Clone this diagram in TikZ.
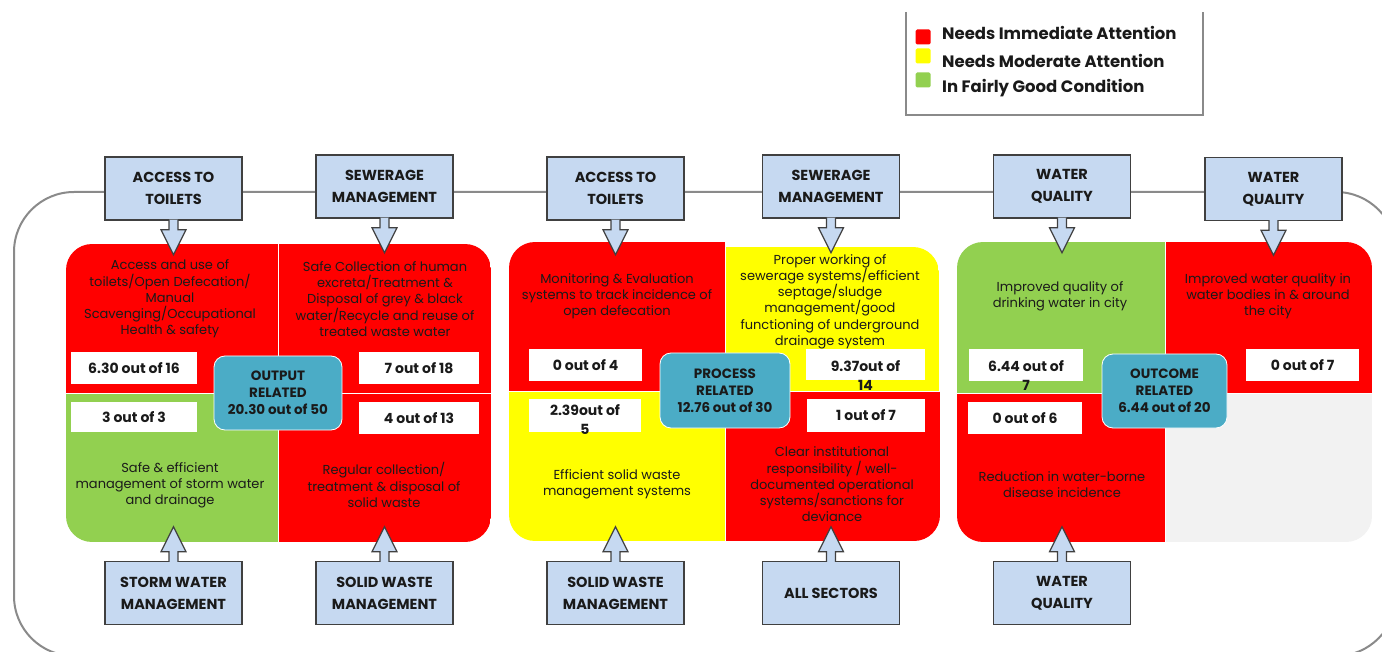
\documentclass[tikz,border=0pt]{standalone}
\usepackage{fontspec}
\setmainfont{Poppins}
\usetikzlibrary{calc}

\definecolor{hdrblue}{HTML}{C6D9F1}
\definecolor{edgegray}{HTML}{404040}
\definecolor{alertred}{HTML}{FF0000}
\definecolor{midyellow}{HTML}{FFFF00}
\definecolor{goodgreen}{HTML}{92D050}
\definecolor{blankgray}{HTML}{F2F2F2}
\definecolor{sumteal}{HTML}{4BACC6}
\definecolor{framegray}{HTML}{8A8A8A}
\definecolor{inkdark}{HTML}{1A1A1A}

\tikzset{
  hdr/.style={draw=edgegray, line width=1.4pt, fill=hdrblue, minimum width=137pt,
    minimum height=63pt, inner sep=0pt, align=center, text=inkdark,
    font=\bfseries\fontsize{14.5}{22}\selectfont},
  scorebox/.style={fill=white, inner sep=0pt, text=inkdark,
    font=\bfseries\fontsize{14}{19}\selectfont},
  scoretext/.style={inner sep=0pt, align=center, text=inkdark,
    font=\bfseries\fontsize{14}{19}\selectfont},
  desc/.style={align=center, inner sep=0pt, text=inkdark,
    font=\fontsize{13}{16.2}\selectfont},
  summary/.style={fill=sumteal, draw=white, line width=0.8pt, rounded corners=11pt,
    inner sep=0pt, align=center, text=inkdark,
    font=\bfseries\fontsize{13.5}{17}\selectfont},
  blockarrow/.style={fill=hdrblue, draw=edgegray, line width=1.2pt, line join=miter},
  divider/.style={white, line width=1pt},
  legsq/.style={minimum size=15pt, inner sep=0pt, rounded corners=1.5pt},
  legtext/.style={anchor=west, inner sep=0pt, text=inkdark,
    font=\bfseries\fontsize{16.5}{18}\selectfont}
}

% block arrow hanging below a header box
\newcommand{\blockdown}[1]{%
  \filldraw[blockarrow] ($(#1.south)+(-4.5,-1)$) -- ($(#1.south)+(-4.5,9)$)
    -- ($(#1.south)+(-12.5,9)$) -- ($(#1.south)+(0,34)$)
    -- ($(#1.south)+(12.5,9)$) -- ($(#1.south)+(4.5,9)$) -- ($(#1.south)+(4.5,-1)$);}
% block arrow rising above a footer box
\newcommand{\blockup}[1]{%
  \filldraw[blockarrow] ($(#1.north)+(-4.5,1)$) -- ($(#1.north)+(-4.5,-9)$)
    -- ($(#1.north)+(-12.5,-9)$) -- ($(#1.north)+(0,-34)$)
    -- ($(#1.north)+(12.5,-9)$) -- ($(#1.north)+(4.5,-9)$) -- ($(#1.north)+(4.5,1)$);}

\begin{document}
\begin{tikzpicture}[x=1pt, y=-1pt]
\useasboundingbox (0,0) rectangle (1382,652);

% ---------- legend ----------
\draw[framegray, line width=2pt] (906,12) -- (906,115) -- (1203,115) -- (1203,12);
\node[legsq, fill=alertred]  (lg1) at (923,37) {};
\node[legsq, fill=midyellow] (lg2) at (923,56) {};
\node[legsq, fill=goodgreen] (lg3) at (923,80) {};
\node[legtext] (lt1) at (942,33) {Needs Immediate Attention};
\node[legtext] (lt2) at (942,61) {Needs Moderate Attention};
\node[legtext] (lt3) at (942,88) {In Fairly Good Condition};

% ---------- outer frame ----------
\draw[framegray, line width=2pt, rounded corners=60pt] (14,192) rectangle (1396,656);

% ---------- output related panel ----------
\begin{scope}
  \clip[rounded corners=26pt] (66,244) rectangle (491,542);
  \fill[alertred]  (66,244) rectangle (278,393);
  \fill[alertred]  (278,244) rectangle (491,393);
  \fill[goodgreen] (66,393) rectangle (278,542);
  \fill[alertred]  (278,393) rectangle (491,542);
\end{scope}
\draw[divider] (278,244) -- (278,542);
\draw[divider] (66,393) -- (491,393);

% ---------- process related panel ----------
\begin{scope}
  \clip[rounded corners=26pt] (509,242) rectangle (940,541);
  \fill[alertred]  (509,242) rectangle (725,391);
  \begin{scope}
    \clip[rounded corners=26pt] (690,247) rectangle (939,430);
    \fill[midyellow] (725,247) rectangle (939,391);
  \end{scope}
  \fill[midyellow] (509,391) rectangle (726,541);
  \fill[alertred]  (726,391) rectangle (940,541);
\end{scope}
\draw[divider] (509,391) -- (940,391);
\draw[divider] (725.5,247) -- (725.5,541);

% ---------- outcome related panel ----------
\begin{scope}
  \clip[rounded corners=26pt] (957,242) rectangle (1372,542);
  \fill[goodgreen] (957,242) rectangle (1165,393);
  \fill[alertred]  (1165,242) rectangle (1372,393);
  \fill[alertred]  (957,393) rectangle (1165,542);
  \fill[blankgray] (1165,393) rectangle (1372,542);
\end{scope}
\draw[divider] (1165,242) -- (1165,542);
\draw[divider] (957,393) -- (1372,393);

% ---------- header boxes ----------
\node[hdr] (t1) at (173.5,188.5) {ACCESS TO\\TOILETS};
\node[hdr] (t2) at (384.5,186.5) {SEWERAGE\\MANAGEMENT};
\node[hdr] (t3) at (615.5,188.5) {ACCESS TO\\TOILETS};
\node[hdr] (t4) at (831,186.5)   {SEWERAGE\\MANAGEMENT};
\node[hdr] (t5) at (1062,186.5)  {WATER\\QUALITY};
\node[hdr] (t6) at (1273.5,189)  {WATER\\QUALITY};

% ---------- footer boxes ----------
\node[hdr] (b1) at (173.5,593) {STORM WATER\\MANAGEMENT};
\node[hdr] (b2) at (384.5,593) {SOLID WASTE\\MANAGEMENT};
\node[hdr] (b3) at (615.5,593) {SOLID WASTE\\MANAGEMENT};
\node[hdr] (b4) at (831,593)   {ALL SECTORS};
\node[hdr] (b5) at (1062,593)  {WATER\\QUALITY};

% ---------- connectors ----------
\blockdown{t1} \blockdown{t2} \blockdown{t3}
\blockdown{t4} \blockdown{t5} \blockdown{t6}
\blockup{b1} \blockup{b2} \blockup{b3} \blockup{b4} \blockup{b5}

% ---------- indicator descriptions ----------
\node[desc] (d1) at (170,299) {Access and use of\\toilets/Open Defecation/\\Manual\\Scavenging/Occupational\\Health \& safety};
\node[desc] (d2) at (385,299) {Safe Collection of human\\excreta/Treatment \&\\Disposal of grey \& black\\water/Recycle and reuse of\\treated waste water};
\node[desc] (d3) at (170,485) {Safe \& efficient\\management of storm water\\and drainage};
\node[desc] (d4) at (384,485) {Regular collection/\\treatment \& disposal of\\solid waste};

\node[desc] (d5) at (617,296) {Monitoring \& Evaluation\\systems to track incidence of\\open defecation};
\node[desc] (d6) at (830,301.5) {Proper working of\\sewerage systems/efficient\\septage/sludge\\management/good\\functioning of underground\\drainage system};
\node[desc] (d7) at (617,484) {Efficient solid waste\\management systems};
\node[desc] (d8) at (832,484.5) {Clear institutional\\responsibility / well-\\documented operational\\systems/sanctions for\\deviance};

\node[desc] (d9)  at (1060,296.5) {Improved quality of\\drinking water in city};
\node[desc] (d10) at (1268,296) {Improved water quality in\\water bodies in \& around\\the city};
\node[desc] (d11) at (1062,485) {Reduction in water-borne\\disease incidence};

% ---------- scores ----------
\node[scorebox, minimum width=126pt, minimum height=32pt] (s1) at (134,368) {6.30 out of 16};
\node[scorebox, minimum width=120pt, minimum height=32pt] (s2) at (419,368) {7 out of 18};
\node[scorebox, minimum width=126pt, minimum height=30pt] (s3) at (134,417) {3 out of 3};
\node[scorebox, minimum width=120pt, minimum height=32pt] (s4) at (419,418) {4 out of 13};

\node[scorebox, minimum width=113pt, minimum height=32pt] (s5) at (585.5,365) {0 out of 4};
\node[scorebox, minimum width=119pt, minimum height=31pt] (s6) at (865.5,364.5) {};
\node[scoretext] (s6t) at (865.5,376) {9.37out of\\14};
\node[scorebox, minimum width=112pt, minimum height=33pt] (s7) at (585,415.5) {};
\node[scoretext] (s7t) at (585,420) {2.39out of\\5};
\node[scorebox, minimum width=118pt, minimum height=33pt] (s8) at (866,415.5) {1 out of 7};

\node[scorebox, minimum width=114pt, minimum height=32pt] (s9) at (1026,365) {};
\node[scoretext] (s9t) at (1026,376) {6.44 out of\\7};
\node[scorebox, minimum width=113pt, minimum height=32pt] (s10) at (1302.5,365) {0 out of 7};
\node[scorebox, minimum width=114pt, minimum height=32pt] (s11) at (1025,418) {0 out of 6};

% ---------- category totals ----------
\node[summary, minimum width=128pt, minimum height=74pt] (sumA) at (278,393) {OUTPUT\\RELATED\\20.30 out of 50};
\node[summary, minimum width=130pt, minimum height=75pt] (sumB) at (725,390.5) {PROCESS\\RELATED\\12.76 out of 30};
\node[summary, minimum width=125pt, minimum height=74pt] (sumC) at (1164.5,391) {OUTCOME\\RELATED\\6.44 out of 20};
\end{tikzpicture}
\end{document}
